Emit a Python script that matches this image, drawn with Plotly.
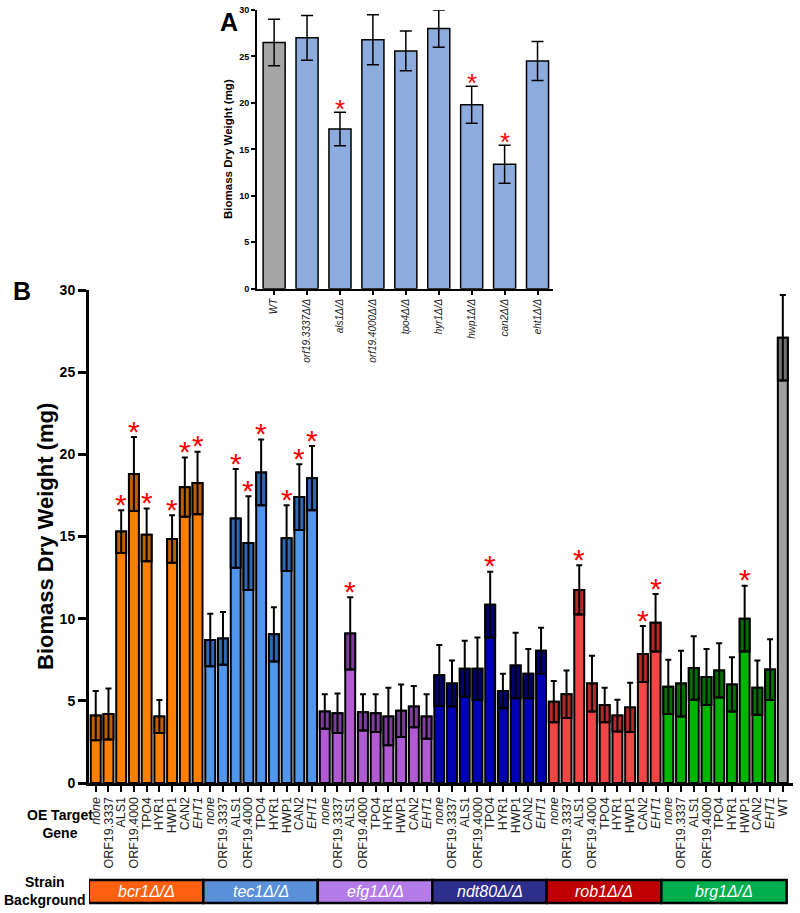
import plotly.graph_objects as go

W, H = 800, 913
def px(x): return x / W
def py(y): return 1 - y / H

FONT = "Arial, Liberation Sans, sans-serif"

# ---------------- Panel A data ----------------
a_strains = ["WT", "orf19.3337Δ/Δ", "als1Δ/Δ", "orf19.4000Δ/Δ", "tpo4Δ/Δ",
             "hyr1Δ/Δ", "hwp1Δ/Δ", "can2Δ/Δ", "eht1Δ/Δ"]
a_mean = [26.5, 27.0, 17.2, 26.8, 25.6, 28.0, 19.8, 13.4, 24.5]
a_err = [2.5, 2.4, 1.8, 2.7, 2.15, 2.0, 2.0, 2.05, 2.1]
a_sig = [0, 0, 1, 0, 0, 0, 1, 1, 0]

# ---------------- Panel B data ----------------
genes = ["none", "ORF19.3337", "ALS1", "ORF19.4000", "TPO4", "HYR1", "HWP1", "CAN2", "EHT1"]
backgrounds = ["bcr1Δ/Δ", "tec1Δ/Δ", "efg1Δ/Δ", "ndt80Δ/Δ", "rob1Δ/Δ", "brg1Δ/Δ"]

bcr1_mean = [4.1, 4.2, 15.3, 18.8, 15.1, 4.05, 14.85, 18.0, 18.25]
bcr1_err = [1.5, 1.55, 1.3, 2.25, 1.6, 1.0, 1.45, 1.8, 1.9]
bcr1_sig = [0, 0, 1, 1, 1, 0, 1, 1, 1]

tec1_mean = [8.7, 8.8, 16.1, 14.6, 18.9, 9.05, 14.9, 17.4, 18.55]
tec1_err = [1.6, 1.6, 3.0, 2.85, 2.0, 1.65, 2.0, 2.0, 1.95]
tec1_sig = [0, 0, 1, 1, 1, 0, 1, 1, 1]

efg1_mean = [4.35, 4.25, 9.1, 4.3, 4.25, 4.05, 4.4, 4.65, 4.05]
efg1_err = [1.05, 1.2, 2.2, 1.1, 1.15, 1.75, 1.6, 1.25, 1.35]
efg1_sig = [0, 0, 1, 0, 0, 0, 0, 0, 0]

ndt80_mean = [6.55, 6.05, 6.95, 6.95, 10.85, 5.6, 7.15, 6.65, 8.05]
ndt80_err = [1.85, 1.4, 1.7, 1.9, 2.0, 1.05, 2.0, 1.5, 1.4]
ndt80_sig = [0, 0, 0, 0, 1, 0, 0, 0, 0]

rob1_mean = [4.95, 5.4, 11.75, 6.05, 4.75, 4.1, 4.6, 7.85, 9.75]
rob1_err = [1.25, 1.45, 1.5, 1.7, 1.05, 0.97, 1.5, 1.7, 1.75]
rob1_sig = [0, 0, 1, 0, 0, 0, 0, 1, 1]

brg1_mean = [5.85, 6.05, 7.0, 6.45, 6.85, 6.0, 10.0, 5.8, 6.9]
brg1_err = [1.65, 2.0, 1.93, 1.7, 1.65, 1.65, 2.0, 1.65, 1.85]
brg1_sig = [0, 0, 0, 0, 0, 0, 1, 0, 0]

wt_mean = 27.1
wt_err = 2.6

group_means = [bcr1_mean, tec1_mean, efg1_mean, ndt80_mean, rob1_mean, brg1_mean]
group_errs = [bcr1_err, tec1_err, efg1_err, ndt80_err, rob1_err, brg1_err]
group_sigs = [bcr1_sig, tec1_sig, efg1_sig, ndt80_sig, rob1_sig, brg1_sig]

bar_colors = ["#FF8000", "#4F96EC", "#B05AD4", "#0000B4", "#F04646", "#00B400"]
dark_colors = ["#BF5F00", "#2F68B4", "#7E3C9C", "#000074", "#B42A2A", "#007000"]
strain_colors = ["#FF6010", "#5A90D8", "#B47CE8", "#2E2E8C", "#C00000", "#00AE4E"]
wt_color, wt_dark = "#A0A0A0", "#727272"

means, errs, sigs, cols, dcols, labels = [], [], [], [], [], []
for g in range(6):
    for i, gene in enumerate(genes):
        means.append(group_means[g][i])
        errs.append(group_errs[g][i])
        sigs.append(group_sigs[g][i])
        cols.append(bar_colors[g])
        dcols.append(dark_colors[g])
        labels.append(f"<i>{gene}</i>" if gene in ("none", "EHT1") else gene)
means.append(wt_mean); errs.append(wt_err); sigs.append(0)
cols.append(wt_color); dcols.append(wt_dark); labels.append("WT")
xs = list(range(len(means)))

fig = go.Figure()

# Panel B bars
fig.add_trace(go.Bar(x=xs, y=means, width=0.78, marker=dict(color=cols, line=dict(color="black", width=2)),
                     xaxis="x", yaxis="y", showlegend=False, hoverinfo="skip"))
fig.add_trace(go.Bar(x=xs, y=errs, base=[m - e for m, e in zip(means, errs)], width=0.78,
                     marker=dict(color=dcols, line=dict(color="black", width=2)),
                     xaxis="x", yaxis="y", showlegend=False, hoverinfo="skip"))
fig.add_trace(go.Scatter(x=xs, y=means, mode="markers", marker=dict(size=1, color="rgba(0,0,0,0)"),
                         error_y=dict(type="data", array=errs, color="black", thickness=2, width=3),
                         xaxis="x", yaxis="y", showlegend=False, hoverinfo="skip"))

# Panel A bars
a_cols = ["#A6A6A6"] + ["#8DACDE"] * 8
ax = list(range(len(a_mean)))
fig.add_trace(go.Bar(x=ax, y=a_mean, width=0.67, marker=dict(color=a_cols, line=dict(color="black", width=1.5)),
                     error_y=dict(type="data", array=a_err, color="black", thickness=1.5, width=6),
                     xaxis="x2", yaxis="y2", showlegend=False, hoverinfo="skip"))

fig.update_layout(
    width=W, height=H, margin=dict(l=0, r=0, t=0, b=0),
    paper_bgcolor="white", plot_bgcolor="rgba(0,0,0,0)",
    barmode="overlay", font=dict(family=FONT, color="black"),
    xaxis=dict(domain=[px(89), px(793)], range=[-0.53, 54.8], tickvals=xs, ticktext=labels,
               tickangle=-90, tickfont=dict(size=12.5, color="#222"), showline=True, linecolor="black",
               linewidth=3, ticks="outside", ticklen=6, tickwidth=2, tickcolor="black",
               showgrid=False, zeroline=False, anchor="y", automargin=False),
    yaxis=dict(domain=[py(783), py(290)], range=[0, 30], tickvals=[0, 5, 10, 15, 20, 25, 30],
               tickfont=dict(size=14, weight="bold"), showline=True, linecolor="black",
               linewidth=3, ticks="outside", ticklen=8, tickwidth=2.5, tickcolor="black",
               showgrid=False, zeroline=False, anchor="x", automargin=False),
    xaxis2=dict(domain=[px(257), px(553)], range=[-0.52, 8.47], tickvals=ax,
                ticktext=[f"<i>{s}</i>" for s in a_strains], tickangle=-90,
                tickfont=dict(size=10, color="#222"), showline=True, linecolor="black", linewidth=2,
                ticks="outside", ticklen=4, tickwidth=1.5, tickcolor="black",
                showgrid=False, zeroline=False, anchor="y2", automargin=False),
    yaxis2=dict(domain=[py(288.7), py(10)], range=[0, 30], tickvals=[0, 5, 10, 15, 20, 25, 30],
                tickfont=dict(size=9, weight="bold"), showline=True, linecolor="black",
                linewidth=2, ticks="outside", ticklen=4, tickwidth=1.5, tickcolor="black",
                showgrid=False, zeroline=False, anchor="x2", automargin=False),
)

ann = []
# significance asterisks
for x, m, e, s in zip(xs, means, errs, sigs):
    if s:
        ann.append(dict(text="*", x=x, y=m + e, xref="x", yref="y", showarrow=False,
                        font=dict(size=30, color="#FF0000"), xanchor="center", yanchor="middle", yshift=6))
for x, m, e, s in zip(ax, a_mean, a_err, a_sig):
    if s:
        ann.append(dict(text="*", x=x, y=m + e, xref="x2", yref="y2", showarrow=False,
                        font=dict(size=26, color="#FF0000"), xanchor="center", yanchor="middle", yshift=3))

ann.append(dict(text="<b>A</b>", x=px(229), y=py(22), xref="paper", yref="paper", showarrow=False,
                font=dict(size=25), xanchor="center", yanchor="middle"))
ann.append(dict(text="<b>B</b>", x=px(22), y=py(291), xref="paper", yref="paper", showarrow=False,
                font=dict(size=25), xanchor="center", yanchor="middle"))
ann.append(dict(text="<b>Biomass Dry Weight (mg)</b>", x=px(228), y=py(149), xref="paper", yref="paper",
                showarrow=False, textangle=-90, font=dict(size=11.5), xanchor="center", yanchor="middle"))
ann.append(dict(text="<b>Biomass Dry Weight (mg)</b>", x=px(45), y=py(537), xref="paper", yref="paper",
                showarrow=False, textangle=-90, font=dict(size=22), xanchor="center", yanchor="middle"))
ann.append(dict(text="<b>OE Target<br>Gene</b>", x=px(60), y=py(824), xref="paper", yref="paper",
                showarrow=False, font=dict(size=14), xanchor="center", yanchor="middle", align="center"))
ann.append(dict(text="<b>Strain<br>Background</b>", x=px(45), y=py(891), xref="paper", yref="paper",
                showarrow=False, font=dict(size=14), xanchor="center", yanchor="middle", align="center"))

shapes = []
y0, y1 = py(903), py(880)
for g, name in enumerate(backgrounds):
    x0 = g * 9 - 0.55
    x1 = g * 9 + 8.45 if g < 5 else 54.3
    shapes.append(dict(type="rect", xref="x", yref="paper", x0=x0, x1=x1, y0=y0, y1=y1,
                       fillcolor=strain_colors[g], line=dict(color="black", width=2.5), layer="above"))
    ann.append(dict(text=f"<i>{name}</i>", x=(x0 + x1) / 2, y=py(891.5), xref="x", yref="paper",
                    showarrow=False, font=dict(size=16, color="white"), xanchor="center", yanchor="middle"))

fig.update_layout(annotations=ann, shapes=shapes)
fig.write_html("out.html", config={"displayModeBar": False},
               post_script="document.body.style.margin='0';document.body.style.overflow='hidden';")
